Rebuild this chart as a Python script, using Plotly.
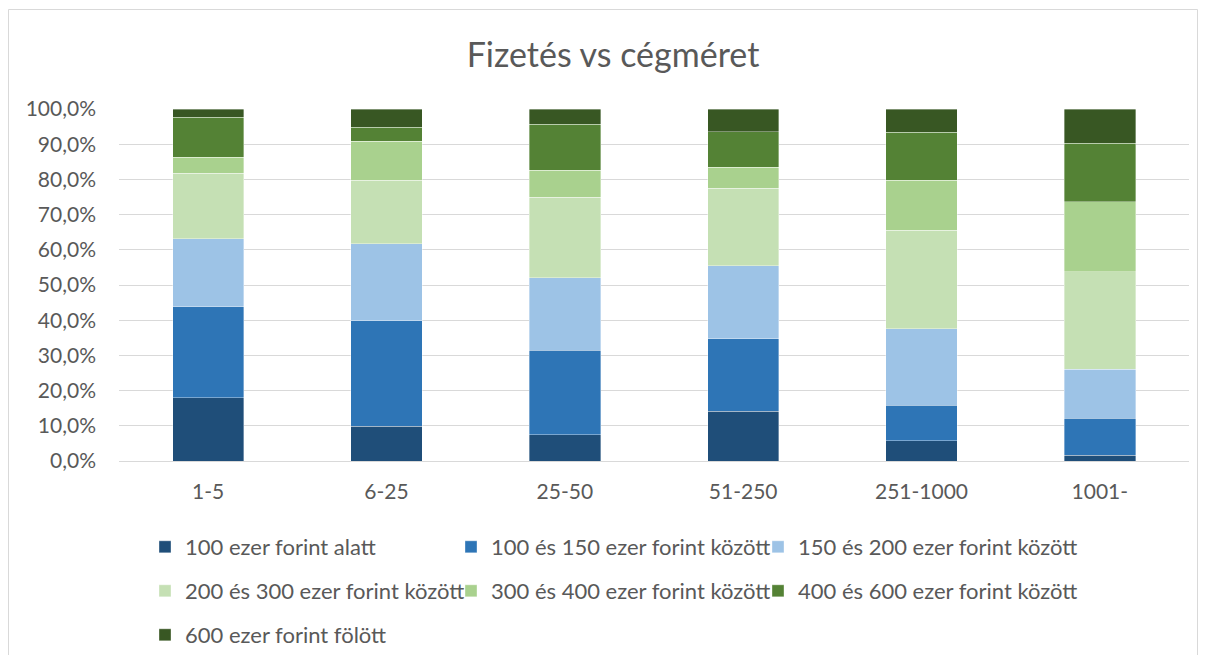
import plotly.graph_objects as go

categories = ["1-5", "6-25", "25-50", "51-250", "251-1000", "1001-"]
series_names = [
    "100 ezer forint alatt",
    "100 és 150 ezer forint között",
    "150 és 200 ezer forint között",
    "200 és 300 ezer forint között",
    "300 és 400 ezer forint között",
    "400 és 600 ezer forint között",
    "600 ezer forint fölött",
]
s_lt100 = [18.0, 9.9, 7.4, 14.1, 5.7, 1.6]
s_100_150 = [25.8, 29.9, 24.0, 20.7, 10.1, 10.5]
s_150_200 = [19.3, 21.9, 20.7, 20.7, 21.8, 13.9]
s_200_300 = [18.6, 18.1, 22.9, 22.0, 28.0, 27.8]
s_300_400 = [4.6, 11.0, 7.6, 5.9, 14.2, 19.9]
s_400_600 = [11.3, 4.0, 13.1, 10.2, 13.6, 16.6]
s_gt600 = [2.4, 5.2, 4.3, 6.4, 6.6, 9.7]
series_values = [s_lt100, s_100_150, s_150_200, s_200_300, s_300_400, s_400_600, s_gt600]
colors = ["#1f4e79", "#2e75b6", "#9dc3e6", "#c5e0b4", "#a9d18e", "#548235", "#385723"]
y_ticks = [0, 10, 20, 30, 40, 50, 60, 70, 80, 90, 100]
y_ticktext = [f"{v:.1f}".replace(".", ",") + "%" for v in y_ticks]

FONT = "Lato"
TXT = "#595959"

# page is offset by the 8px body margin
W, H = 1190, 647
ml, mr, mt, mb = 111, 9, 101, 194
pw, ph = W - ml - mr, H - mt - mb

def px_x(p):
    return (p - ml) / pw

def px_y(p):
    return (H - mb - p) / ph

# legend item placement (figure pixels): 3 columns x 3 rows
leg_cols = [137, 443, 750]
leg_rows = [539, 583, 627]

fig = go.Figure()
legend_layout = {}
for i, (name, vals, col) in enumerate(zip(series_names, series_values, colors)):
    lid = "legend" if i == 0 else f"legend{i + 1}"
    fig.add_trace(go.Bar(
        x=categories, y=vals, name=name,
        marker=dict(color=col, line=dict(color="rgba(255,255,255,0.6)", width=0.6)),
        legend=lid, showlegend=True,
    ))
    legend_layout[lid] = dict(
        orientation="h", xanchor="left", yanchor="middle",
        x=px_x(leg_cols[i % 3]), y=px_y(leg_rows[i // 3]),
        font=dict(family=FONT, size=22, color=TXT),
        itemwidth=30,
        bgcolor="rgba(0,0,0,0)",
        itemclick=False, itemdoubleclick=False,
    )

fig.update_layout(
    width=W, height=H,
    showlegend=True,
    margin=dict(l=ml, r=mr, t=mt, b=mb, autoexpand=False),
    barmode="stack", bargap=0.6,
    paper_bgcolor="white", plot_bgcolor="white",
    font=dict(family=FONT, size=21, color=TXT),
    title=dict(text="Fizetés vs cégméret", x=0.5 + 10 / W, xanchor="center",
               y=1 - 47 / H, yanchor="middle",
               font=dict(family=FONT, size=34, color=TXT)),
    xaxis=dict(showgrid=False, showline=False, ticks="", ticklabelstandoff=16,
               tickfont=dict(size=21, color=TXT)),
    yaxis=dict(range=[0, 100], tickvals=y_ticks, ticktext=y_ticktext,
               showgrid=True, gridcolor="#d9d9d9", gridwidth=1,
               zeroline=True, zerolinecolor="#d9d9d9", zerolinewidth=1,
               showline=False, ticks="", ticklabelstandoff=22,
               tickfont=dict(size=21, color=TXT)),
    shapes=[dict(type="rect", xref="paper", yref="paper",
                 x0=px_x(0.5), x1=px_x(1189.5), y0=px_y(700), y1=px_y(1.5),
                 line=dict(color="#d9d9d9", width=1), fillcolor="rgba(0,0,0,0)",
                 layer="below")],
    **legend_layout,
)

fig.write_html("out.html")
